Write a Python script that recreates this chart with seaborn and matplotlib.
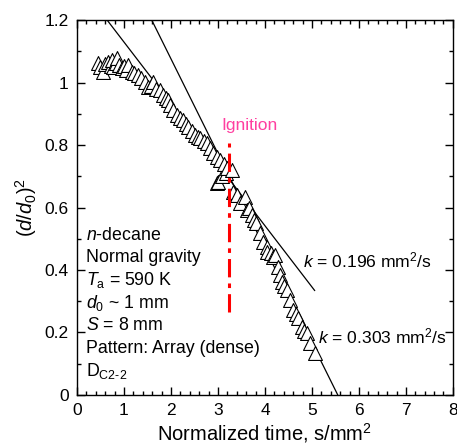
import numpy as np
import pandas as pd
import seaborn as sns
import matplotlib.pyplot as plt
from matplotlib.ticker import MultipleLocator

# Measured droplet data (normalized time vs (d/d0)^2)
time_vals = [0.45, 0.50, 0.55, 0.60, 0.67, 0.72, 0.74, 0.77, 0.82, 0.86, 0.90, 0.95,
             1.00, 1.05, 1.09, 1.16, 1.22, 1.30, 1.36, 1.45, 1.52, 1.57, 1.62, 1.68,
             1.77, 1.83, 1.90, 1.94, 1.98, 2.05, 2.12, 2.19, 2.26, 2.32, 2.37, 2.44,
             2.51, 2.57, 2.62, 2.70, 2.76, 2.83, 2.90, 2.97, 3.04, 2.97, 3.01, 3.08,
             3.12, 3.18, 3.19, 3.29, 3.33, 3.40, 3.47, 3.57, 3.61, 3.65, 3.72, 3.77,
             3.82, 3.89, 3.96, 4.04, 4.04, 4.12, 4.18, 4.21, 4.28, 4.32, 4.36, 4.41,
             4.46, 4.53, 4.60, 4.66, 4.71, 4.78, 4.83, 4.89, 4.96, 5.06]
d2_vals = [1.061, 1.050, 1.035, 1.058, 1.067, 1.052, 1.072, 1.050, 1.062, 1.077, 1.055, 1.045,
           1.052, 1.040, 1.056, 1.035, 1.030, 1.024, 1.015, 1.002, 0.986, 0.990, 1.002, 0.980,
           0.976, 0.960, 0.950, 0.944, 0.928, 0.912, 0.896, 0.888, 0.880, 0.868, 0.859, 0.845,
           0.832, 0.826, 0.821, 0.812, 0.805, 0.790, 0.773, 0.762, 0.752, 0.679, 0.683, 0.700,
           0.740, 0.710, 0.725, 0.720, 0.651, 0.640, 0.613, 0.634, 0.592, 0.597, 0.575, 0.560,
           0.549, 0.517, 0.490, 0.475, 0.459, 0.455, 0.443, 0.448, 0.411, 0.385, 0.363, 0.350,
           0.336, 0.304, 0.272, 0.258, 0.245, 0.219, 0.205, 0.197, 0.165, 0.133]

# Fitted lines (endpoints)
fit_slow_t = [0.64, 5.06]
fit_slow_y = [1.2, 0.334]
fit_fast_t = [1.59, 5.55]
fit_fast_y = [1.2, 0.0]

ignition_t = 3.24
ignition_y = [0.267, 0.806]

info_lines = ["$\\it{n}$-decane", "Normal gravity", "$\\it{T}_{\\rm a}$ = 590 K",
              "$\\it{d}_0$ ~ 1 mm", "$\\it{S}$ = 8 mm", "Pattern: Array (dense)",
              "D$_{\\rm C2\\text{-}2}$"]

sns.set_style("ticks")
plt.rcParams['font.family'] = ['Liberation Sans', 'DejaVu Sans']
plt.rcParams['mathtext.fontset'] = 'custom'
plt.rcParams['mathtext.rm'] = 'Liberation Sans'
plt.rcParams['mathtext.it'] = 'Liberation Sans:italic'
plt.rcParams['text.color'] = 'black'
plt.rcParams['axes.labelcolor'] = 'black'

fig = plt.figure(figsize=(4.57, 4.45), dpi=100)
ax = fig.add_axes([0.1685, 0.1124, 0.8225, 0.8426])

df = pd.DataFrame({"t": time_vals, "d2": d2_vals})
sns.scatterplot(data=df, x="t", y="d2", marker="^", s=100, facecolor="white",
                edgecolor="black", linewidth=0.8, ax=ax, zorder=3)

sns.lineplot(x=fit_slow_t, y=fit_slow_y, color="black", linewidth=0.9, ax=ax, zorder=2)
sns.lineplot(x=fit_fast_t, y=fit_fast_y, color="black", linewidth=0.9, ax=ax, zorder=2)

ax.plot([ignition_t, ignition_t], ignition_y, color="red", linewidth=2.2,
        linestyle=(0, (6, 2, 1.5, 2)), zorder=4)
ax.text(3.08, 0.861, "Ignition", color="#ff3fa0", fontsize=12.5, va="center", ha="left")

ax.text(4.81, 0.432, "$\\it{k}$ = 0.196 mm$^2$/s", fontsize=12.6, va="center")
ax.text(5.13, 0.187, "$\\it{k}$ = 0.303 mm$^2$/s", fontsize=12.6, va="center")

for i, line in enumerate(info_lines):
    ax.text(0.19, 0.512 - i * 0.0728, line, fontsize=12.75, va="center", ha="left")

ax.set_xlim(0, 8)
ax.set_ylim(0, 1.2)
ax.xaxis.set_major_locator(MultipleLocator(1))
ax.xaxis.set_minor_locator(MultipleLocator(0.2))
ax.yaxis.set_major_locator(MultipleLocator(0.2))
ax.yaxis.set_minor_locator(MultipleLocator(0.1))
ax.yaxis.set_major_formatter(plt.FuncFormatter(lambda v, p: f"{v:g}"))
ax.tick_params(which="both", direction="in", top=True, right=True, labelsize=12.5,
               width=1.0, colors="black")
ax.tick_params(which="major", length=6, pad=6)
ax.tick_params(which="minor", length=3)
for sp in ax.spines.values():
    sp.set_linewidth(1.0)
    sp.set_color("black")

ax.set_xlabel("Normalized time, s/mm$^2$", fontsize=14.5, labelpad=2)
ax.set_ylabel("($\\it{d}$/$\\it{d}_0$)$^2$", fontsize=14.5, labelpad=4)

fig.savefig("out.png", dpi=100)
